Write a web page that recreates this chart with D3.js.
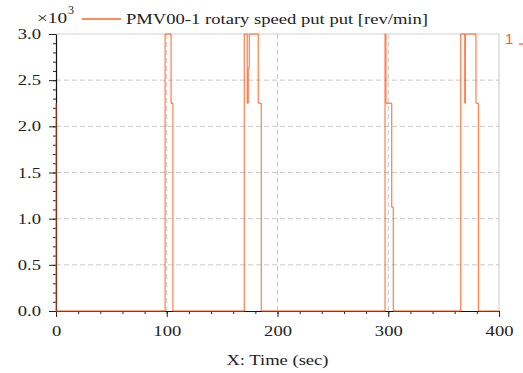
<!DOCTYPE html>
<html><head><meta charset="utf-8">
<script src="https://cdn.jsdelivr.net/npm/d3@7"></script>
<style>
html,body{margin:0;padding:0;background:#fff;}
text{font-family:"Liberation Serif","Times New Roman",serif;fill:#222;}
</style></head>
<body><svg id="c" width="523" height="373"></svg>
<script>
// ---- data (time in s, rotary speed in rev/min) ----
const times = [0, 0, 98.5, 103.9, 105.6, 170.0, 172.7, 173.6, 174.5, 182.6, 185.4,
               297.1, 297.9, 303.1, 304.6, 365.4, 369.2, 369.5, 379.2, 381.4, 400];
const speed = [2250, 0, 3000, 2250, 0, 3000, 2250, 2630, 3000, 2250, 0,
               3000, 2250, 1125, 0, 3000, 2250, 3000, 2250, 0, 0];
const xMajor = [0, 100, 200, 300, 400];
const xMinor = d3.range(0, 401, 20);
const yMajor = [0, 500, 1000, 1500, 2000, 2500, 3000];
const yMinor = d3.range(0, 3001, 100);
const xGrid = [100, 200, 300];
const yGrid = [500, 1000, 1500, 2000, 2500];
const seriesName = "PMV00-1 rotary speed put put [rev/min]";
const xTitle = "X: Time (sec)";

const L = 56, R = 499, T = 34, B = 311;
const svg = d3.select("#c");
const x = d3.scaleLinear().domain([0, 400]).range([L, R]);
const y = d3.scaleLinear().domain([0, 3000]).range([B, T]);
const orange = "#ff5a1a";
const stretch = 1.28;
function widen(sel, k) {
  sel.each(function () {
    const w = this.getComputedTextLength();
    d3.select(this).attr("textLength", w * k).attr("lengthAdjust", "spacingAndGlyphs");
  });
}

// frame (top & right)
svg.append("path").attr("d", `M${L},${T}H${R}V${B}`).attr("fill", "none")
  .attr("stroke", "#d2d2d2").attr("stroke-width", 1.2);

// grid
const grid = svg.append("g").attr("stroke", "#c8c8c8").attr("stroke-dasharray", "5,3").attr("stroke-width", 1);
grid.selectAll(".gx").data(xGrid).join("line").attr("x1", d => x(d)).attr("x2", d => x(d)).attr("y1", T).attr("y2", B);
grid.selectAll(".gy").data(yGrid).join("line").attr("y1", d => y(d)).attr("y2", d => y(d)).attr("x1", L).attr("x2", R);

// axes
const ax = svg.append("g").attr("transform", `translate(0,${B})`);
ax.call(d3.axisBottom(x).tickValues(xMinor).tickSize(3).tickSizeOuter(0).tickFormat(""));
const axM = svg.append("g").attr("transform", `translate(0,${B})`)
  .call(d3.axisBottom(x).tickValues(xMajor).tickSize(6).tickSizeOuter(0).tickPadding(9).tickFormat(d3.format("d")));
axM.select(".domain").remove();
axM.selectAll("text").attr("font-size", 14.5).call(widen, stretch);

const ay = svg.append("g").attr("transform", `translate(${L},0)`);
ay.call(d3.axisLeft(y).tickValues(yMinor).tickSize(3).tickSizeOuter(0).tickFormat(""));
const ayM = svg.append("g").attr("transform", `translate(${L},0)`)
  .call(d3.axisLeft(y).tickValues(yMajor).tickSize(7).tickSizeOuter(0).tickPadding(8).tickFormat(d => (d / 1000).toFixed(1)));
ayM.select(".domain").remove();
ayM.selectAll("text").attr("font-size", 14.5).call(widen, stretch);
svg.selectAll(".domain").attr("stroke", "#111").attr("stroke-width", 1.2);
svg.selectAll(".tick line").attr("stroke", "#222");

// series as step segments
const pts = [];
times.forEach((t, i) => {
  if (i > 0) pts.push([t, speed[i - 1]]);
  pts.push([t, speed[i]]);
});
const segs = d3.pairs(pts).filter(([a, b]) => a[0] !== b[0] || a[1] !== b[1]);
svg.append("g").selectAll("line").data(segs).join("line")
  .attr("x1", d => x(d[0][0])).attr("y1", d => y(d[0][1]))
  .attr("x2", d => x(d[1][0])).attr("y2", d => y(d[1][1]))
  .attr("stroke", orange).attr("stroke-width", 1.3).attr("stroke-opacity", 0.72)
  .attr("stroke-linecap", "butt");

// x title
svg.append("text").attr("x", (L + R) / 2).attr("y", 365).attr("text-anchor", "middle")
  .attr("font-size", 14.5).text(xTitle).call(widen, stretch);

// multiplier
svg.append("text").attr("x", 37).attr("y", 22.5).attr("font-size", 15.5).text("×10")
  .attr("textLength", 30).attr("lengthAdjust", "spacingAndGlyphs");
svg.append("text").attr("x", 68).attr("y", 13.5).attr("font-size", 12).text("3")
  .attr("textLength", 6).attr("lengthAdjust", "spacingAndGlyphs");

// legend
svg.append("line").attr("x1", 82).attr("x2", 121).attr("y1", 19).attr("y2", 19)
  .attr("stroke", orange).attr("stroke-opacity", 0.7).attr("stroke-width", 2);
svg.append("text").attr("x", 126).attr("y", 24).attr("font-size", 15.5).text(seriesName)
  .attr("textLength", 302).attr("lengthAdjust", "spacingAndGlyphs");

// right-side curve tag
svg.append("text").attr("x", 505).attr("y", 43.5).attr("font-size", 15)
  .style("font-family", "Liberation Sans").style("fill", orange).text("1");
svg.append("line").attr("x1", 519).attr("x2", 523).attr("y1", 44).attr("y2", 44)
  .attr("stroke", orange).attr("stroke-width", 1.2);
</script></body></html>
